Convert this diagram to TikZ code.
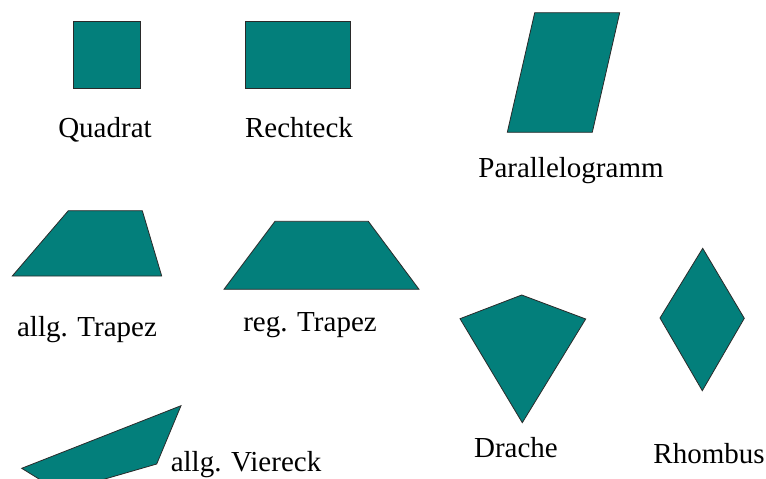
\documentclass[tikz,border=0pt]{standalone}
\usepackage{fontspec}
\setmainfont{Liberation Serif}
\definecolor{teal1}{HTML}{037F7B}
\definecolor{edge1}{HTML}{2A2A2A}
\begin{document}
\begin{tikzpicture}[x=1pt,y=-1pt,
  shapefill/.style={fill=teal1,draw=edge1,line width=0.8pt,line join=miter},
  lbl/.style={anchor=base,inner sep=0pt,font=\fontsize{29}{34}\selectfont}]
\useasboundingbox (0,0) rectangle (766,479);
\clip (0,0) rectangle (766,479);
% Quadrat
\draw[shapefill] (73,21) rectangle (140,88);
\node[lbl] (lq) at (105,137) {Quadrat};
% Rechteck
\draw[shapefill] (245,21) rectangle (350,88);
\node[lbl] (lr) at (299,137) {Rechteck};
% Parallelogramm
\draw[shapefill] (534.7,12.7) -- (619.7,12.7) -- (592.3,132.3) -- (507.3,132.3) -- cycle;
\node[lbl] (lp) at (571,177) {Parallelogramm};
% allg. Trapez
\draw[shapefill] (68.3,210.7) -- (142.3,210.7) -- (161.7,276) -- (12.3,276) -- cycle;
\node[lbl] (lat) at (87,336) {allg. Trapez};
% reg. Trapez
\draw[shapefill] (275,221.3) -- (368.3,221.3) -- (419,289.3) -- (224,289.3) -- cycle;
\node[lbl] (lrt) at (310,331) {reg. Trapez};
% Drache
\draw[shapefill] (521.7,295) -- (585.7,319) -- (522.3,422.7) -- (460,318.7) -- cycle;
\node[lbl] (ld) at (516,457) {Drache};
% Rhombus
\draw[shapefill] (702.7,248.3) -- (744.3,318.3) -- (702.3,390.7) -- (660,318) -- cycle;
\node[lbl] (lrh) at (709,463) {Rhombus};
% allg. Viereck
\draw[shapefill] (21.7,468.3) -- (181,405.7) -- (156.7,464) -- (60,492) -- cycle;
\node[lbl] (lv) at (246,471) {allg. Viereck};
\end{tikzpicture}
\end{document}
